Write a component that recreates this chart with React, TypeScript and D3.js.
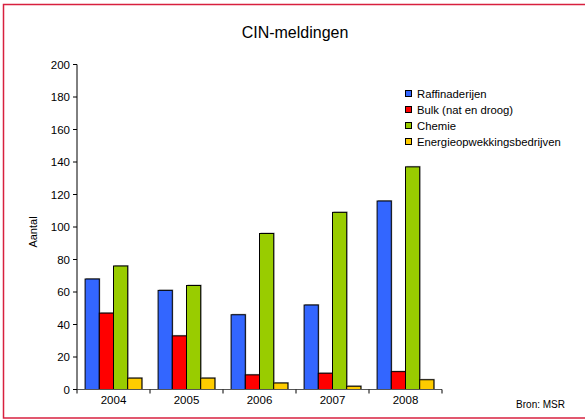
import React from "react";
import * as d3 from "d3";

const years = ["2004", "2005", "2006", "2007", "2008"];
const seriesNames = ["Raffinaderijen", "Bulk (nat en droog)", "Chemie", "Energieopwekkingsbedrijven"];
const seriesColors = ["#3366FF", "#FF0000", "#99CC00", "#FFCC00"];
const raffinaderijen = [68, 61, 46, 52, 116];
const bulk = [47, 33, 9, 10, 11];
const chemie = [76, 64, 96, 109, 137];
const energie = [7, 7, 4, 2, 6];
const yTicks = [0, 20, 40, 60, 80, 100, 120, 140, 160, 180, 200];

const W = 585, H = 419;
const m = { left: 77, right: 442, top: 64.5, bottom: 389.5 };

export default function App() {
  const series = [raffinaderijen, bulk, chemie, energie];
  const x = d3.scaleBand<string>().domain(years).range([m.left, m.right]).padding(0);
  const y = d3.scaleLinear().domain([0, 200]).range([m.bottom, m.top]);
  const inner = d3.scaleBand<number>().domain([0, 1, 2, 3]).range([0, x.bandwidth()]).paddingOuter(0.57).paddingInner(0);
  const font = "'Liberation Sans', Arial, sans-serif";
  return (
    <div style={{ position: "absolute", left: 0, top: 0 }}>
      <svg width={W} height={H} style={{ display: "block" }} fontFamily={font}>
        <rect x={0} y={0} width={W} height={H} fill="#fff" />
        <rect x={3.5} y={4.5} width={W + 10} height={H - 5.5} fill="none" stroke="#d8203f" strokeWidth={1.5} />
        <text x={295} y={38} textAnchor="middle" fontSize={16} fill="#000">CIN-meldingen</text>
        {/* bars */}
        {years.map((yr, i) => (
          <g key={yr}>
            {series.map((s, k) => {
              const bx = (x(yr) as number) + (inner(k) as number);
              const bw = inner.bandwidth();
              const by = y(s[i]);
              const bh = y(0) - by;
              return (
                <g key={k}>
                  <rect x={bx + 1} y={by - 1} width={bw} height={bh + 1} fill="#b0b0b0" />
                  <rect x={bx} y={by} width={bw} height={bh} fill={seriesColors[k]} stroke="#000" strokeWidth={1} />
                </g>
              );
            })}
          </g>
        ))}
        {/* y axis */}
        <line x1={m.left} x2={m.left} y1={y(200)} y2={y(0)} stroke="#000" strokeWidth={1} />
        {yTicks.map((t) => (
          <g key={t}>
            <line x1={m.left - 4} x2={m.left} y1={y(t)} y2={y(t)} stroke="#000" />
            <text x={70} y={y(t) + 4} textAnchor="end" fontSize={11.5} fill="#000">{t}</text>
          </g>
        ))}
        {/* x axis */}
        <line x1={m.left} x2={m.right} y1={y(0)} y2={y(0)} stroke="#555" strokeWidth={1.2} />
        {[...years.map((yr) => x(yr) as number), m.right].map((tx, i) => (
          <line key={i} x1={tx} x2={tx} y1={y(0)} y2={y(0) + 4} stroke="#000" />
        ))}
        {years.map((yr) => (
          <text key={yr} x={(x(yr) as number) + x.bandwidth() / 2} y={404} textAnchor="middle" fontSize={11.5} fill="#000">{yr}</text>
        ))}
        <text transform={`translate(37,232) rotate(-90)`} textAnchor="middle" fontSize={11} fill="#000">Aantal</text>
        {/* legend */}
        {seriesNames.map((n, k) => (
          <g key={n}>
            <rect x={405.5} y={90.5 + k * 16} width={6} height={6} fill={seriesColors[k]} stroke="#000" />
            <text x={417} y={97.5 + k * 16} fontSize={11.3} fill="#000">{n}</text>
          </g>
        ))}
        <text x={565} y={408} textAnchor="end" fontSize={10} fill="#000">Bron: MSR</text>
      </svg>
    </div>
  );
}
